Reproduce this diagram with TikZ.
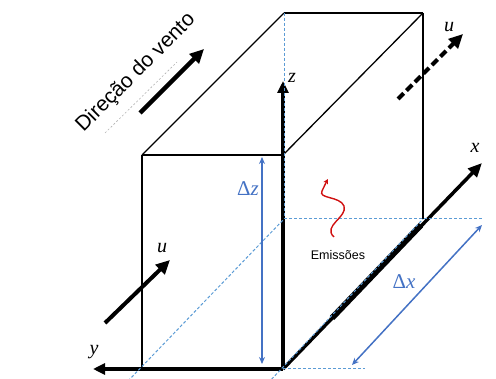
\documentclass[tikz,border=0pt]{standalone}
\usepackage{fontspec}
\setmainfont{Liberation Sans}
\newfontfamily\tnr{Liberation Serif}
\usetikzlibrary{arrows.meta}
\definecolor{bl}{HTML}{4472C4}
\definecolor{bld}{HTML}{5B9BD5}
\definecolor{wred}{HTML}{D01010}
\begin{document}
\begin{tikzpicture}[x=1pt,y=-1pt,
  edge/.style={line width=1.3pt, black},
  axis/.style={line width=3.5pt, black, -{Triangle[length=12pt,width=11pt]}},
  hidden/.style={bld, line width=1pt, dash pattern=on 3pt off 2pt},
  dimarrow/.style={bl, line width=1.5pt, {Stealth[length=7pt,width=6pt]}-{Stealth[length=7pt,width=6pt]}},
  windarrow/.style={line width=4pt, black, -{Triangle[length=14pt,width=13pt]}},
  lbl/.style={inner sep=0pt, font=\tnr\itshape\fontsize{20}{20}\selectfont},
  dlbl/.style={inner sep=0pt, bl, font=\tnr\itshape\fontsize{21}{21}\selectfont},
  txt/.style={inner sep=0pt, font=\fontsize{12.5}{12.5}\selectfont}]
\useasboundingbox (0,0) rectangle (496,379);
% box corners
\coordinate (FTL) at (142,155);
\coordinate (FTR) at (283,155);
\coordinate (FBL) at (142,369);
\coordinate (FBR) at (283,369);
\coordinate (BTL) at (284,13);
\coordinate (BTR) at (423,13);
\coordinate (BBR) at (423,219);
\coordinate (BBL) at (284,219);
% visible edges
\draw[edge] (FTL) -- (FTR);
\draw[edge] (FTL) -- (BTL);
\draw[edge, line width=1.8pt] (BTL) -- (BTR);
\draw[edge] (FTR) -- (BTR);
\draw[edge] (BTR) -- (BBR);
\draw[edge] (FTL) -- (FBL);
% axes
\coordinate (O) at (283,369);
\coordinate (zt) at (283,81);
\coordinate (yt) at (93,369);
\coordinate (xt) at (482,163);
\coordinate (xa) at (332,318);
\coordinate (xb) at (421,225);
\draw[axis] (O) -- (zt);
\draw[axis] (O) -- (yt);
\draw[axis, -{Triangle[length=14pt,width=12pt]}] (O) -- (xt);
\draw[line width=6pt] (xa) -- (xb);
% hidden edges
\coordinate (hl1) at (128,381);
\coordinate (hl2) at (268,383);
\coordinate (hr) at (483,219);
\coordinate (hb) at (365,369);
\draw[hidden] (BTL) -- (BBL);
\draw[hidden] (BBL) -- (hr);
\draw[hidden] (hl1) -- (BBL);
\draw[hidden] (hl2) -- (BBR);
\draw[hidden] (FBR) -- (hb);
% dimension arrows
\coordinate (dz1) at (262,157);
\coordinate (dz2) at (262,364);
\coordinate (dx1) at (352,365);
\coordinate (dx2) at (482,225);
\draw[dimarrow] (dz1) -- (dz2);
\draw[dimarrow] (dx1) -- (dx2);
% wind arrows
\coordinate (w1) at (140,113);
\coordinate (w2) at (204,49);
\coordinate (u1) at (105,323);
\coordinate (u2) at (170,260);
\coordinate (v1) at (398,99);
\coordinate (v2) at (463,34);
\coordinate (f1) at (105,133);
\coordinate (f2) at (177,62);
\draw[black!30, line width=0.6pt, dash pattern=on 2pt off 2pt] (f1) -- (f2);
\draw[windarrow, line width=4.5pt] (w1) -- (w2);
\draw[windarrow] (u1) -- (u2);
\draw[windarrow, dash pattern=on 8pt off 4pt] (v1) -- (v2);
% emission wave
\coordinate (e0) at (334,237);
\coordinate (e1) at (344,206);
\coordinate (e2) at (322,191);
\coordinate (e3) at (328,179);
\draw[wred, line width=1.4pt, -{Stealth[length=5pt,width=5pt]}]
  (e0) .. controls (322,226) and (348,217) .. (e1)
       .. controls (340,196) and (318,199) .. (e2)
       .. controls (324,186) .. (e3);
% labels
\node[txt, rotate=45] (dir) at (136,73) {\fontsize{21}{21}\selectfont Direção do vento};
\node[txt] (emi) at (338,255) {Emissões};
\node[lbl] (ulab) at (162,248) {u};
\node[lbl] (ulab2) at (449,27) {u};
\node[lbl] (xlab) at (475,148) {x};
\node[lbl] (ylab) at (94,352) {y};
\node[lbl] (zlab) at (292,78) {z};
\node[dlbl] (dzlab) at (248,189) {{\upshape Δ}z};
\node[dlbl] (dxlab) at (404,282) {{\upshape Δ}x};
\end{tikzpicture}
\end{document}
